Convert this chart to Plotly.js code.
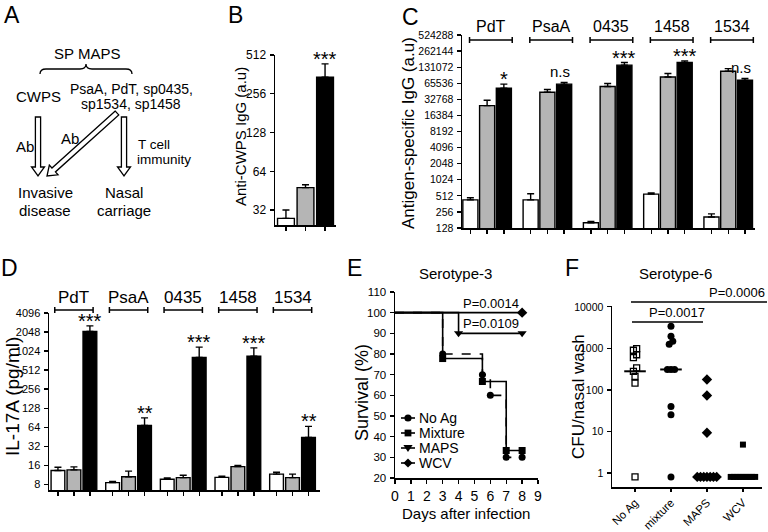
<!DOCTYPE html>
<html><head><meta charset="utf-8">
<script src="https://cdn.plot.ly/plotly-3.0.1.min.js"></script>
<style>html,body{margin:0;padding:0;background:#fff}#chart{width:768px;height:532px}</style>
</head><body><div id="chart"></div>
<script>
// ---------------- data ----------------
const bGroups = ['No Ag', 'Mixture', 'MAPS'];
const bValues = [27.6, 47.8, 345];
const bErrors = [4.4, 2.5, 92];
const bSig = '***';

const antigens = ['PdT', 'PsaA', '0435', '1458', '1534'];
const cNoAg = [430, 430, 160, 550, 206];
const cNoAgErr = [40, 130, 10, 30, 29];
const cMixture = [25000, 44400, 57000, 86000, 110000];
const cMixtureErr = [6400, 5600, 8000, 14000, 13000];
const cMAPS = [53000, 63000, 143000, 160000, 75000];
const cMAPSErr = [10000, 5000, 17000, 12000, 6000];
const cSig = ['*', 'n.s', '***', '***', 'n.s'];
const cTicks = [128, 256, 512, 1024, 2048, 4096, 8192, 16384, 32768, 65536, 131072, 262144, 524288];

const dNoAg = [13.2, 8.5, 9.6, 10.3, 11.6];
const dNoAgErr = [1.7, 0.4, 0.5, 0.4, 0.8];
const dMixture = [13.5, 10.5, 10.2, 15.2, 10.2];
const dMixtureErr = [1.6, 2.4, 0.9, 0.7, 1.4];
const dMAPS = [2090, 68, 810, 850, 44];
const dMAPSErr = [470, 22, 370, 300, 22];
const dSig = ['***', '**', '***', '***', '**'];
const dTicks = [8, 16, 32, 64, 128, 256, 512, 1024, 2048, 4096];

const eNoAgDays = [0, 3, 5.5, 6, 7, 8];
const eNoAgSurv = [100, 80, 70, 60, 30, 30];
const eMixtureDays = [0, 3, 5.5, 7, 8];
const eMixtureSurv = [100, 77.8, 66.7, 33.3, 33.3];
const eMAPSDays = [0, 4, 8];
const eMAPSSurv = [100, 90, 90];
const eWCVDays = [0, 8];
const eWCVSurv = [100, 100];
const eLegend = ['No Ag', 'Mixture', 'MAPS', 'WCV'];

const fCats = ['No Ag', 'mixture', 'MAPS', 'WCV'];
const fNoAg = [980, 900, 700, 600, 340, 280, 210, 145, 0.8];
const fMixture = [3400, 1960, 1490, 1250, 310, 310, 310, 40, 25, 0.8];
const fMAPS = [178, 73, 9.3, 0.8, 0.8, 0.8, 0.8, 0.8, 0.8, 0.8];
const fWCV = [4.8, 0.8, 0.8, 0.8, 0.8, 0.8, 0.8, 0.8, 0.8, 0.8];
const fMedian = [280, 310, 0.8, 0.8];
const fTicks = [1, 10, 100, 1000, 10000];

// ---------------- helpers ----------------
const W = 768, H = 532;
const px = x => x / W, py = y => 1 - y / H;
const REG = "'Liberation Sans', Arial, sans-serif";
const L2 = Math.log10(2);
const WHITE = '#ffffff', GREY = '#b5b5b5', BLACK = '#000000';

function pathPx(s) {
  const tok = s.trim().split(/\s+/);
  const out = []; let nums = [];
  for (const t of tok) {
    if (/^[A-Za-z]$/.test(t)) { out.push(t); }
    else { nums.push(parseFloat(t)); if (nums.length === 2) { out.push(px(nums[0]).toFixed(5) + ',' + py(nums[1]).toFixed(5)); nums = []; } }
  }
  return out.join(' ');
}
function ann(text, x, y, size, o) {
  return Object.assign({ text, x: px(x), y: py(y), xref: 'paper', yref: 'paper', showarrow: false,
    xanchor: 'center', yanchor: 'middle', font: { family: REG, size, color: '#000' } }, o || {});
}
function arrowPath(x1, y1, x2, y2) {
  const s = 2.6, h = 6.5, Lh = 9;
  const len = Math.hypot(x2 - x1, y2 - y1), ux = (x2 - x1) / len, uy = (y2 - y1) / len;
  const nx = -uy, ny = ux;
  const bx = x2 - ux * Lh, by = y2 - uy * Lh;
  const p = [[x1 + nx * s, y1 + ny * s], [bx + nx * s, by + ny * s], [bx + nx * h, by + ny * h], [x2, y2],
    [bx - nx * h, by - ny * h], [bx - nx * s, by - ny * s], [x1 - nx * s, y1 - ny * s]];
  return 'M ' + p.map(q => q[0].toFixed(2) + ' ' + q[1].toFixed(2)).join(' L ') + ' Z';
}
function spread(vals, idx, step) {
  const order = vals.map((v, i) => [Math.log10(v), i]).sort((a, b) => a[0] - b[0]);
  const xs = new Array(vals.length);
  let i = 0;
  while (i < order.length) {
    let j = i;
    while (j + 1 < order.length && order[j + 1][0] - order[j][0] < 0.1) j++;
    const n = j - i + 1;
    for (let k = i; k <= j; k++) xs[order[k][1]] = idx + (k - i - (n - 1) / 2) * step;
    i = j + 1;
  }
  return xs;
}
const TF = size => ({ family: REG, size, color: '#000' });
function axisBase(extra) {
  return Object.assign({ showline: true, linecolor: '#000', linewidth: 1.5, ticks: 'outside', ticklen: 4,
    tickwidth: 1.3, tickcolor: '#000', showgrid: false, zeroline: false, fixedrange: true, ticklabelstandoff: 1 }, extra);
}

const traces = [], shapes = [], annotations = [];
const errStyle = (arr) => ({ type: 'data', symmetric: false, array: arr, arrayminus: arr.map(() => 0), color: '#000', thickness: 1.4, width: 3.5 });
const barMarker = c => ({ color: c, line: { color: '#000', width: 1.4 } });

// ---------------- B ----------------
const bX = bGroups.map((_, i) => i);
[WHITE, GREY, BLACK].forEach((c, i) => {
  traces.push({ type: 'bar', x: [bX[i]], y: [bValues[i]], width: 0.86, marker: barMarker(c),
    error_y: errStyle([bErrors[i]]), xaxis: 'x', yaxis: 'y', showlegend: false });
});
annotations.push({ text: bSig, x: bX[2], y: Math.log10(bValues[2] + bErrors[2]), xref: 'x', yref: 'y', showarrow: false,
  yanchor: 'bottom', yshift: -8, font: { family: REG, size: 20, color: '#000' } });

// ---------------- C ----------------
const cS = 3.6;
const cSeries = [[cNoAg, cNoAgErr, WHITE], [cMixture, cMixtureErr, GREY], [cMAPS, cMAPSErr, BLACK]];
cSeries.forEach(([v, e, c], i) => {
  traces.push({ type: 'bar', x: antigens.map((_, g) => g * cS + i), y: v, width: 0.9, marker: barMarker(c),
    error_y: errStyle(e), xaxis: 'x2', yaxis: 'y2', showlegend: false });
});
antigens.forEach((a, g) => {
  const x0 = g * cS - 0.05, x1 = g * cS + 2.5, yb = py(40);
  shapes.push({ type: 'line', xref: 'x2', yref: 'paper', x0, x1, y0: yb, y1: yb, line: { color: '#000', width: 1.5 } });
  shapes.push({ type: 'line', xref: 'x2', yref: 'paper', x0, x1: x0, y0: py(37), y1: py(43), line: { color: '#000', width: 1.5 } });
  shapes.push({ type: 'line', xref: 'x2', yref: 'paper', x0: x1, x1, y0: py(37), y1: py(43), line: { color: '#000', width: 1.5 } });
  annotations.push({ text: a, x: (x0 + x1) / 2, y: py(26), xref: 'x2', yref: 'paper', showarrow: false,
    yanchor: 'middle', font: { family: REG, size: 16, color: '#000' } });
  const isNs = cSig[g] === 'n.s';
  annotations.push({ text: cSig[g], x: g * cS + 2, y: Math.log10(cMAPS[g] + cMAPSErr[g]), xref: 'x2', yref: 'y2',
    showarrow: false, yanchor: 'bottom', yshift: isNs ? 0 : -8, xshift: isNs ? -4 : 0,
    font: { family: REG, size: isNs ? 15 : 20, color: '#000' } });
});

// ---------------- D ----------------
const dS = 3.42;
const dSeries = [[dNoAg, dNoAgErr, WHITE], [dMixture, dMixtureErr, GREY], [dMAPS, dMAPSErr, BLACK]];
dSeries.forEach(([v, e, c], i) => {
  traces.push({ type: 'bar', x: antigens.map((_, g) => g * dS + i), y: v, width: 0.86, marker: barMarker(c),
    error_y: errStyle(e), xaxis: 'x3', yaxis: 'y3', showlegend: false });
});
antigens.forEach((a, g) => {
  const x0 = g * dS - 0.2, x1 = g * dS + 2.2, yb = py(310);
  shapes.push({ type: 'line', xref: 'x3', yref: 'paper', x0, x1, y0: yb, y1: yb, line: { color: '#000', width: 1.5 } });
  shapes.push({ type: 'line', xref: 'x3', yref: 'paper', x0, x1: x0, y0: py(307), y1: py(313), line: { color: '#000', width: 1.5 } });
  shapes.push({ type: 'line', xref: 'x3', yref: 'paper', x0: x1, x1, y0: py(307), y1: py(313), line: { color: '#000', width: 1.5 } });
  annotations.push({ text: a, x: (x0 + x1) / 2, y: py(297), xref: 'x3', yref: 'paper', showarrow: false,
    yanchor: 'middle', font: { family: REG, size: 17, color: '#000' } });
  annotations.push({ text: dSig[g], x: g * dS + 2, y: Math.log10(dMAPS[g] + dMAPSErr[g]), xref: 'x3', yref: 'y3',
    showarrow: false, yanchor: 'bottom', yshift: -8, font: { family: REG, size: 20, color: '#000' } });
});

// ---------------- E ----------------
const eSeries = [
  [eNoAgDays, eNoAgSurv, 'circle', 'dash', 7],
  [eMixtureDays, eMixtureSurv, 'square', 'solid', 7],
  [eMAPSDays, eMAPSSurv, 'triangle-down', 'solid', 8],
  [eWCVDays, eWCVSurv, 'diamond', 'solid', 8]];
eSeries.forEach(([x, y, sym, dash, sz], i) => {
  traces.push({ type: 'scatter', mode: 'lines+markers', x, y, xaxis: 'x4', yaxis: 'y4', showlegend: false,
    line: { shape: 'hv', color: '#000', width: 1.6, dash }, cliponaxis: false,
    marker: { symbol: sym, color: '#000', opacity: 1, size: x.map((_, k) => k === 0 ? 0 : sz), line: { width: 0 } } });
});
// legend (drawn manually)
const legSym = ['circle', 'square', 'triangle-down', 'diamond'];
eLegend.forEach((t, i) => {
  const y = 418 + i * 15;
  shapes.push({ type: 'line', xref: 'paper', yref: 'paper', x0: px(401), x1: px(415), y0: py(y), y1: py(y), line: { color: '#000', width: 1.6 } });
  const cx = 408, r = 3.6;
  let p;
  if (legSym[i] === 'circle') {
    shapes.push({ type: 'circle', xref: 'paper', yref: 'paper', x0: px(cx - r), x1: px(cx + r), y0: py(y + r), y1: py(y - r), fillcolor: '#000', line: { width: 0 } });
  } else {
    if (legSym[i] === 'square') p = `M ${cx - 3.4} ${y - 3.4} L ${cx + 3.4} ${y - 3.4} L ${cx + 3.4} ${y + 3.4} L ${cx - 3.4} ${y + 3.4} Z`;
    if (legSym[i] === 'triangle-down') p = `M ${cx - 4.6} ${y - 3} L ${cx + 4.6} ${y - 3} L ${cx} ${y + 4} Z`;
    if (legSym[i] === 'diamond') p = `M ${cx} ${y - 4.6} L ${cx + 4.6} ${y} L ${cx} ${y + 4.6} L ${cx - 4.6} ${y} Z`;
    shapes.push({ type: 'path', xref: 'paper', yref: 'paper', path: pathPx(p), fillcolor: '#000', line: { width: 0 } });
  }
  annotations.push(ann(t, 418, y, 14, { xanchor: 'left', borderpad: 0 }));
});
annotations.push(ann('P=0.0014', 521, 303, 13, { xanchor: 'right' }));
annotations.push(ann('P=0.0109', 521, 323, 13, { xanchor: 'right' }));

// ---------------- F ----------------
const fSets = [[fNoAg, 'square-open', 6, 0.09], [fMixture, 'circle', 7, 0.1], [fMAPS, 'diamond', 8, 0.09], [fWCV, 'square', 6, 0.085]];
fSets.forEach(([v, sym, sz, st], i) => {
  traces.push({ type: 'scatter', mode: 'markers', x: spread(v, i, st), y: v, xaxis: 'x5', yaxis: 'y5', showlegend: false,
    cliponaxis: false, marker: { symbol: sym, size: sz, color: '#000', line: { color: '#000', width: sym === 'square-open' ? 1.3 : 0 } } });
});
const medX = [], medY = [];
fMedian.forEach((m, i) => { medX.push(i - 0.3, i + 0.3, null); medY.push(m, m, null); });
traces.push({ type: 'scatter', mode: 'lines', x: medX, y: medY, xaxis: 'x5', yaxis: 'y5', showlegend: false,
  cliponaxis: false, line: { color: '#000', width: 2 } });
shapes.push({ type: 'line', xref: 'paper', yref: 'paper', x0: px(631), x1: px(767), y0: py(302), y1: py(302), line: { color: '#000', width: 1.5 } });
shapes.push({ type: 'line', xref: 'paper', yref: 'paper', x0: px(632), x1: px(703), y0: py(322), y1: py(322), line: { color: '#000', width: 1.5 } });
annotations.push(ann('P=0.0006', 767, 292, 13, { xanchor: 'right' }));
annotations.push(ann('P=0.0017', 677, 312, 13));

// ---------------- A (diagram) ----------------
const lineSt = { color: '#000', width: 1.3 };
shapes.push({ type: 'path', xref: 'paper', yref: 'paper', line: lineSt,
  path: pathPx('M 40 74 Q 40 69 46 69 L 80 69 Q 86 69 86 64 Q 86 69 92 69 L 126 69 Q 132 69 132 74') });
[[38, 117, 38, 176], [117, 113, 47, 176], [124, 117, 124, 176]].forEach(a => {
  shapes.push({ type: 'path', xref: 'paper', yref: 'paper', fillcolor: '#fff', line: lineSt, path: pathPx(arrowPath(...a)) });
});
annotations.push(ann('SP MAPS', 87, 54, 15));
annotations.push(ann('CWPS', 38, 96, 15));
annotations.push(ann('PsaA, PdT, sp0435,', 131, 89, 14, { borderpad: 0 }));
annotations.push(ann('sp1534, sp1458', 131, 104, 14, { borderpad: 0 }));
annotations.push(ann('Ab', 25, 146, 15));
annotations.push(ann('Ab', 70, 138, 15));
annotations.push(ann('T cell', 137, 144, 13.5, { xanchor: 'left', borderpad: 0 }));
annotations.push(ann('immunity', 136, 159, 13.5, { xanchor: 'left', borderpad: 0 }));
annotations.push(ann('Invasive', 45, 193, 15, { borderpad: 0 }));
annotations.push(ann('disease', 45, 210, 15, { borderpad: 0 }));
annotations.push(ann('Nasal', 124, 193, 15, { borderpad: 0 }));
annotations.push(ann('carriage', 124, 210, 15, { borderpad: 0 }));

// ---------------- panel letters & titles ----------------
[['A', 12, 15], ['B', 235, 15], ['C', 410, 17], ['D', 9, 268], ['E', 354, 268], ['F', 572, 268]].forEach(([t, x, y]) => {
  annotations.push(ann(t, x, y, 23));
});
annotations.push(ann('Anti-CWPS IgG (a.u)', 240, 137, 15, { textangle: -90 }));
annotations.push(ann('Antigen-specific IgG (a.u)', 408, 133, 17, { textangle: -90 }));
annotations.push(ann('IL-17A (pg/ml)', 12, 397, 19, { textangle: -90 }));
annotations.push(ann('Survival (%)', 362, 393, 18, { textangle: -90 }));
annotations.push(ann('CFU/nasal wash', 578, 397, 17, { textangle: -90 }));
annotations.push(ann('Serotype-3', 455, 273, 15));
annotations.push(ann('Serotype-6', 675, 273, 15));
annotations.push(ann('Days after infection', 466, 513, 15));

// ---------------- layout ----------------
const layout = {
  width: W, height: H, margin: { l: 0, r: 0, t: 0, b: 0 }, paper_bgcolor: '#fff', plot_bgcolor: 'rgba(0,0,0,0)',
  showlegend: false, barmode: 'overlay', font: { family: REG, color: '#000' },
  xaxis: axisBase({ domain: [px(275), px(336)], range: [-0.56, 2.56], anchor: 'y', tickvals: bX, showticklabels: false }),
  yaxis: axisBase({ domain: [py(225), py(55)], type: 'log', range: [Math.log10(24.5), Math.log10(512)], anchor: 'x',
    tickvals: [32, 64, 128, 256, 512], ticktext: ['32', '64', '128', '256', '512'], tickfont: TF(12) }),
  xaxis2: axisBase({ domain: [px(462), px(755)], range: [-0.5, 17.0], anchor: 'y2',
    tickvals: antigens.flatMap((_, g) => [0, 1, 2].map(i => g * cS + i)), showticklabels: false }),
  yaxis2: axisBase({ domain: [py(228), py(35)], type: 'log', range: [7 * L2, 19 * L2], anchor: 'x2',
    tickvals: cTicks, ticktext: cTicks.map(String), tickfont: TF(10.5) }),
  xaxis3: axisBase({ domain: [px(49), px(320)], range: [-0.56, 16.4], anchor: 'y3',
    tickvals: antigens.flatMap((_, g) => [0, 1, 2].map(i => g * dS + i)), showticklabels: false }),
  yaxis3: axisBase({ domain: [py(490), py(313)], type: 'log', range: [2.7 * L2, 12 * L2], anchor: 'x3',
    tickvals: dTicks, ticktext: dTicks.map(String), tickfont: TF(11) }),
  xaxis4: axisBase({ domain: [px(395), px(538)], range: [0, 9], anchor: 'y4', dtick: 1, tick0: 0, tickfont: TF(14) }),
  yaxis4: axisBase({ domain: [py(478), py(292)], range: [20, 110], anchor: 'x4', dtick: 10, tick0: 20, tickfont: TF(11.5) }),
  xaxis5: axisBase({ domain: [px(612), px(762)], range: [-0.64, 3.53], anchor: 'y5', tickvals: [0, 1, 2, 3], ticktext: fCats,
    tickangle: -45, ticklen: 3, ticklabelstandoff: 0, tickfont: TF(11.5) }),
  yaxis5: axisBase({ domain: [py(487), py(306)], type: 'log', range: [-0.34, 4.02], anchor: 'x5',
    tickvals: fTicks, ticktext: fTicks.map(String), tickfont: TF(10.5) }),
  shapes, annotations
};
Plotly.newPlot('chart', traces, layout, { staticPlot: true, displayModeBar: false });
</script></body></html>
